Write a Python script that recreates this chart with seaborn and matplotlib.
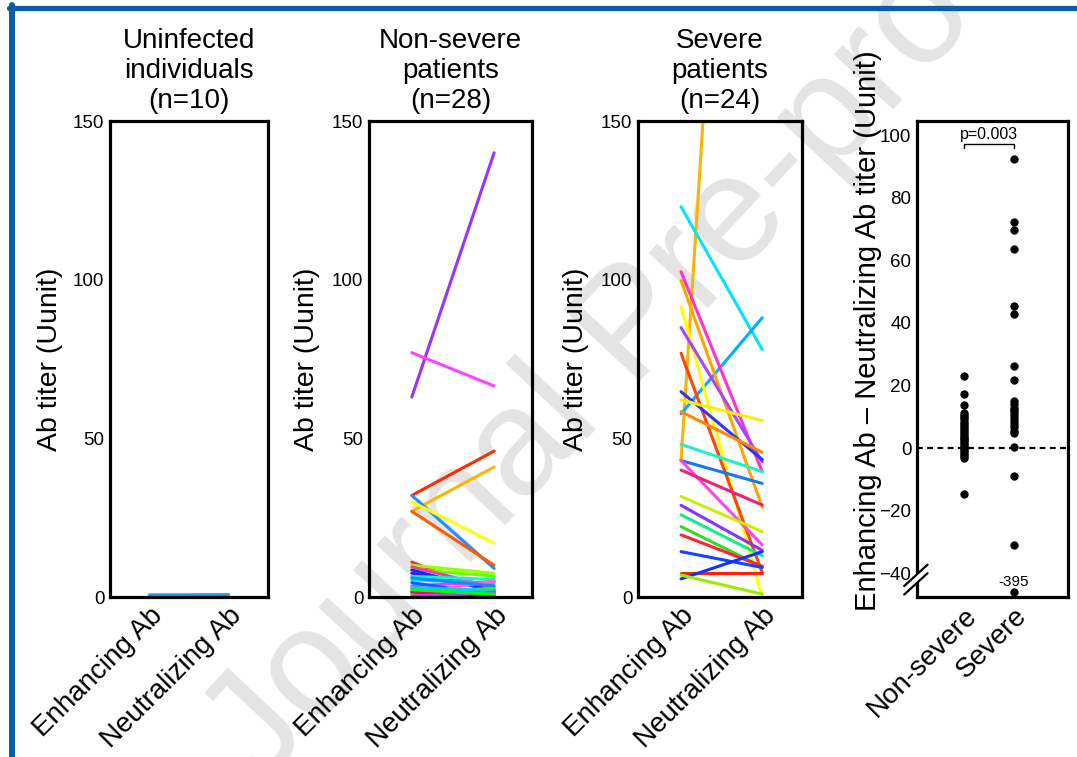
import numpy as np
import pandas as pd
import matplotlib
matplotlib.use("Agg")
import matplotlib.pyplot as plt
from matplotlib.lines import Line2D
import seaborn as sns

# ---------------- data ----------------
pair_labels = ["Enhancing Ab", "Neutralizing Ab"]

# Uninfected individuals (n=10): enhancing / neutralizing titers
uninf_enh = [0.4, 0.6, 0.3, 0.5, 0.7, 0.2, 0.5, 0.4, 0.6, 0.5]
uninf_neu = [0.5, 0.4, 0.6, 0.3, 0.5, 0.7, 0.4, 0.6, 0.8, 0.7]
uninf_colors = ["#ff2266", "#99ff00", "#ff33ff", "#00ffcc", "#aa44ff",
                "#ffb400", "#66ff33", "#22c0ee", "#7fd3a0", "#1ea0e6"]

# Non-severe patients (n=28)
nonsev_enh = [63, 77, 32, 27, 32, 30, 27,
              11, 10, 8.7, 8.5, 7.5, 9.5, 6.5, 5.4, 3.5, 2.7, 1.7,
              4.5, 1.0, 0.8, 2.0, 0.5, 3.0, 1.5, 0.3, 6.0, 2.3]
nonsev_neu = [140, 66.5, 46, 41, 9, 17, 10,
              1.0, 7.5, 6.6, 1.7, 2.2, 3.0, 5.5, 4.3, 4.8, 1.2, 2.7,
              0.8, 5.0, 0.6, 0.5, 1.0, 2.0, 0.3, 1.5, 3.5, 0.9]
nonsev_colors = ["#9933ff", "#ff44ff", "#ff2a00", "#ffb400", "#1e90ff", "#ffff00", "#ff5a00",
                 "#ff2266", "#99ff00", "#66ff00", "#0033ff", "#4411ff", "#ff33aa", "#00ffcc",
                 "#00e5ff", "#ff33ff", "#aa44ff", "#33ff00", "#0066ff", "#ff66cc", "#ccff00",
                 "#00ff66", "#66ff33", "#00ccff", "#ff0066", "#cc33ff", "#1188ff", "#00ff00"]

# Severe patients (n=24)
sev_enh = [43, 123, 57.7, 102.5, 99.7, 91.5, 84.9, 76.8, 64.7, 62.1, 58.4, 48.1,
           43, 43, 40, 31.7, 28.9, 25.9, 22.2, 19.6, 14.3, 7.7, 5.7, 6.9]
sev_neu = [438, 78, 88, 39.5, 28.3, 0, 42.6, 7.7, 43.3, 55.6, 45.6, 39.5,
           35.8, 16.4, 29, 20.6, 14.7, 13, 9.5, 9.7, 9.3, 7.7, 14.3, 0.9]
sev_colors = ["#ffb300", "#00e5ff", "#00b0ff", "#ff33cc", "#ffa500", "#ffff00",
              "#aa44ff", "#ff4400", "#3333ff", "#ffee00", "#ff8800", "#22eecc",
              "#1177ff", "#ff44ee", "#ee2277", "#ccee00", "#8833ff", "#11ee88",
              "#33dd22", "#ff2233", "#1144ff", "#ff2200", "#1133ff", "#99ee00"]

# Enhancing minus neutralizing titer per patient
diff_groups = ["Non-severe", "Severe"]
nonsev_diff = [23, 17.2, 13.7, 11.4, 10.6, 9.9, 9.2, 8.5, 7.8, 7.1, 6.4, 5.8, 5.2,
               4.6, 4.0, 3.4, 2.8, 2.2, 1.6, 1.0, 0.5, 0.0, -0.6, -1.2, -1.8,
               -2.4, -3.0, -14.6]
sev_diff = [92.4, 72.2, 69.7, 63.6, 45.5, 43.0, 26.4, 21.7, 15.0, 14.0, 13.0, 12.3,
            11.5, 10.7, 9.8, 8.6, 7.6, 6.8, 5.6, 4.8, 0.5, -8.8, -30.9, -395]

panel_titles = ["Uninfected\nindividuals\n(n=10)", "Non-severe\npatients\n(n=28)",
                "Severe\npatients\n(n=24)"]
titer_ticks = [0, 50, 100, 150]
diff_ticks = [100, 80, 60, 40, 20, 0, -20, -40]
p_text = "p=0.003"

# ---------------- style ----------------
sns.set_theme(style="white")
plt.rcParams["font.family"] = ["Liberation Sans", "DejaVu Sans"]
for key in ("text.color", "axes.labelcolor", "xtick.color", "ytick.color", "axes.edgecolor"):
    plt.rcParams[key] = "black"
plt.rcParams["axes.linewidth"] = 2.3

fig = plt.figure(figsize=(10.77, 7.57), dpi=100)
W, H = 1077.0, 757.0


def px_axes(left, right, top=121, bottom=597):
    return fig.add_axes([left / W, 1 - bottom / H, (right - left) / W, (bottom - top) / H])


def paired_frame(enh, neu):
    rows = []
    for i in range(len(enh)):
        rows.append({"subject": i, "pos": 0, "titer": enh[i]})
        rows.append({"subject": i, "pos": 1, "titer": neu[i]})
    return pd.DataFrame(rows)


pair_axes = [px_axes(110, 268), px_axes(369, 532), px_axes(638, 802)]
pair_data = [(uninf_enh, uninf_neu, uninf_colors),
             (nonsev_enh, nonsev_neu, nonsev_colors),
             (sev_enh, sev_neu, sev_colors)]

for ax, (enh, neu, cols), title in zip(pair_axes, pair_data, panel_titles):
    ax.set_facecolor("none")
    df = paired_frame(enh, neu)
    sns.lineplot(data=df, x="pos", y="titer", hue="subject", palette=cols,
                 estimator=None, legend=False, linewidth=2.2, ax=ax)
    ax.set_xlim(-0.5, 1.5)
    ax.set_ylim(0, 150)
    ax.set_yticks(titer_ticks)
    ax.set_xticks([0, 1])
    ax.set_xticklabels(pair_labels, rotation=45, ha="right", va="top",
                       rotation_mode="anchor", fontsize=20)
    ax.tick_params(axis="both", length=0, pad=4)
    ax.tick_params(axis="y", labelsize=13.5)
    ax.set_xlabel("")
    ax.set_ylabel("Ab titer (Uunit)", fontsize=20.5)
    ax.yaxis.set_label_coords(-0.30, 0.5)
    ax.set_title(title, fontsize=20, linespacing=1.22, pad=9)
    for s in ax.spines.values():
        s.set_linewidth(2.3)
        s.set_color("black")

pair_axes[1].set_xlim(-0.52, 1.46)
pair_axes[2].set_xlim(-0.53, 1.49)

# ---------------- difference panel with broken y axis ----------------
BREAK_LIMIT = -44.0
BREAK_POS = -45.9


def broken(v):
    return BREAK_POS if v < BREAK_LIMIT else v


dax = px_axes(917, 1068)
dax.set_facecolor("none")
ddf = pd.DataFrame({
    "group": [diff_groups[0]] * len(nonsev_diff) + [diff_groups[1]] * len(sev_diff),
    "diff": nonsev_diff + sev_diff,
})
ddf["shown"] = [broken(v) for v in ddf["diff"]]
dax.axhline(0, color="black", lw=1.6, ls=(0, (2.6, 2.0)), zorder=1)
sns.stripplot(data=ddf, x="group", y="shown", order=diff_groups, jitter=False,
              color="black", size=6, ax=dax, zorder=3)
dax.set_xlim(-0.94, 2.08)
dax.set_ylim(-47.5, 104.5)
dax.set_yticks(diff_ticks)
dax.set_xticks([0, 1])
dax.set_xticklabels(diff_groups, rotation=45, ha="right", va="top",
                    rotation_mode="anchor", fontsize=20)
dax.tick_params(axis="both", length=0, pad=4)
dax.tick_params(axis="y", labelsize=13.5)
dax.set_xlabel("")
dax.set_ylabel("Enhancing Ab \u2013 Neutralizing Ab titer (Uunit)", fontsize=21)
dax.yaxis.set_label_coords(-0.235, 0.56)
for s in dax.spines.values():
    s.set_linewidth(2.3)
    s.set_color("black")

# label of the off-scale point
off_val = min(sev_diff)
dax.text(1, -42.7, f"{off_val:g}", ha="center", va="center", fontsize=11)

# significance bracket
yb = 97.3
dax.plot([0, 0, 1, 1], [yb - 1.3, yb, yb, yb - 1.3], color="black", lw=1.0, clip_on=False)
dax.text(0.5, yb + 0.6, p_text, ha="center", va="bottom", fontsize=11.5)

# axis break marks on the left spine
tr = dax.transAxes
dax.add_line(Line2D([-0.07, 0.06], [0.013, 0.058], transform=tr, color="white",
                    lw=4, clip_on=False, zorder=5))
for off in (0.0, 0.018):
    dax.add_line(Line2D([-0.085, 0.07], [0.005 + off, 0.05 + off], transform=tr,
                        color="black", lw=1.6, clip_on=False, zorder=6))

# ---------------- watermark and frame ----------------
fig.text(0.59, 0.565, "Journal Pre-proof", rotation=47, fontsize=110,
         color="#e4e4e4", ha="center", va="center", zorder=-1)

frame_color = "#0b5cad"
fig.add_artist(Line2D([9 / W, 1], [1 - 7.5 / H, 1 - 7.5 / H], transform=fig.transFigure,
                      color=frame_color, lw=3.8))
fig.add_artist(Line2D([12 / W, 12 / W], [0, 1 - 5 / H], transform=fig.transFigure,
                      color=frame_color, lw=4.3))

fig.savefig("out.png", dpi=100)
